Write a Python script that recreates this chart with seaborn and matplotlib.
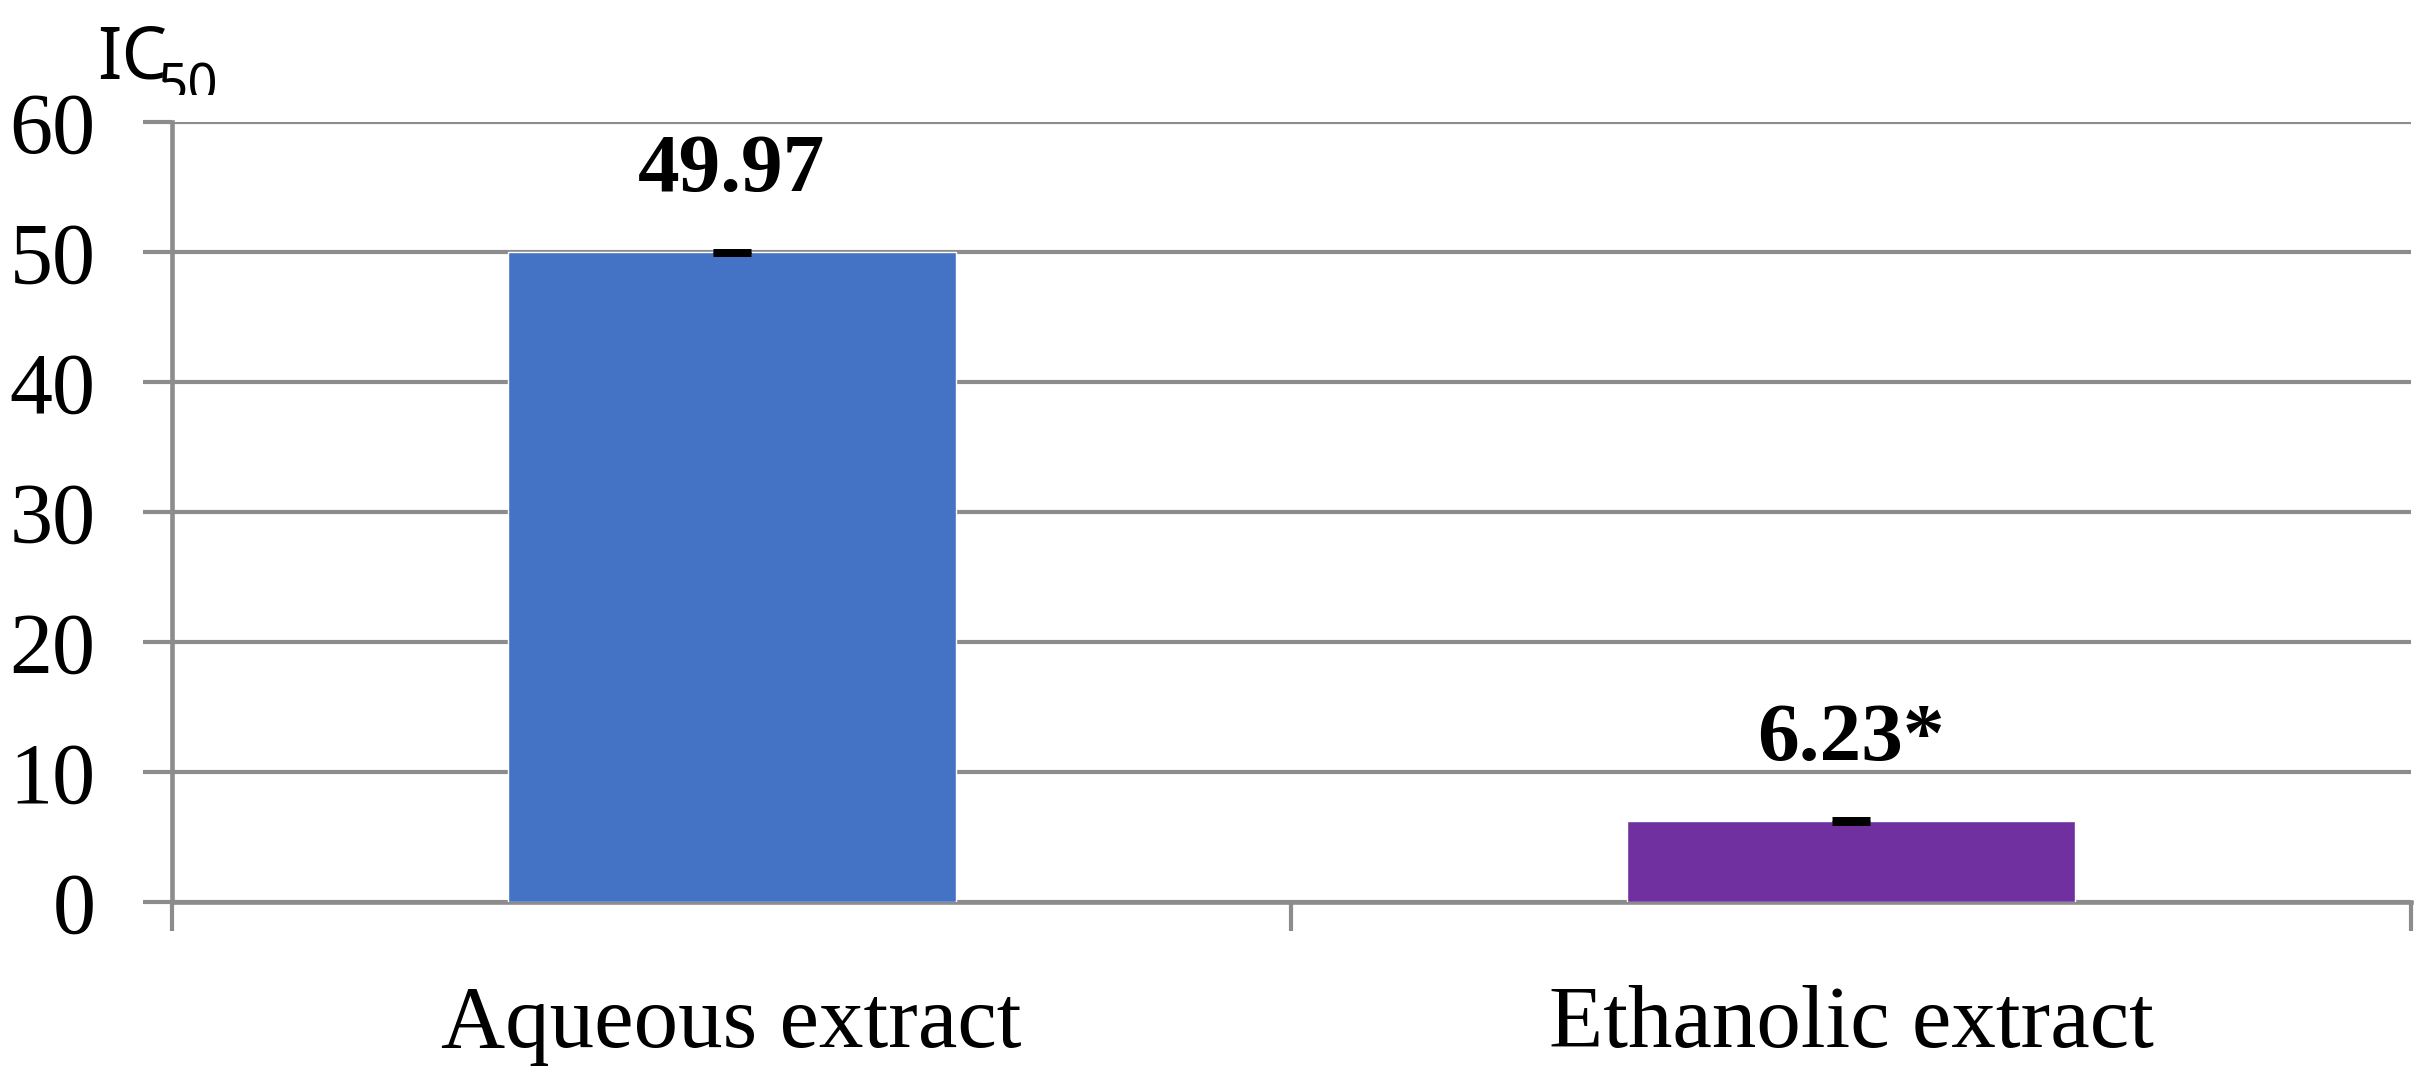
import matplotlib
matplotlib.use("Agg")
import matplotlib.pyplot as plt
from matplotlib.font_manager import FontProperties
from matplotlib.transforms import Bbox, TransformedBbox
import seaborn as sns
import pandas as pd

# chart data
categories = ["Aqueous extract", "Ethanolic extract"]
ic50_values = [49.97, 6.23]
ic50_errors = [0.12, 0.12]
value_labels = ["49.97", "6.23*"]
bar_colors = ["#4472C4", "#7030A0"]
y_ticks = [0, 10, 20, 30, 40, 50, 60]

df = pd.DataFrame({"extract": categories, "ic50": ic50_values})

sns.set_style("white")
plt.rcParams["font.family"] = ["Liberation Serif", "DejaVu Serif"]
plt.rcParams["text.color"] = "black"
plt.rcParams["xtick.labelcolor"] = "black"
plt.rcParams["ytick.labelcolor"] = "black"

grid_color = "#8C8C8C"

fig = plt.figure(figsize=(24.25, 10.89), dpi=100)
ax = fig.add_axes([0.0709, 0.1717, 0.9233, 0.7163])

sns.barplot(data=df, x="extract", y="ic50", hue="extract", palette=bar_colors,
            width=0.4, saturation=1, legend=False, ax=ax, zorder=3)

# error bars (very small SD)
ax.errorbar(range(len(categories)), ic50_values, yerr=ic50_errors, fmt="none",
            ecolor="black", elinewidth=3.5, capsize=13.5, capthick=3.6, zorder=4)

# bold value labels above bars
for i, (v, lab) in enumerate(zip(ic50_values, value_labels)):
    ax.annotate(lab, (i, v), xytext=(0, 44), textcoords="offset points",
                ha="center", va="baseline", fontsize=60, fontweight="bold",
                color="black")

ax.set_xlim(-0.5, 1.5)
ax.set_ylim(0, 60)
ax.set_yticks(y_ticks)
ax.grid(axis="y", color=grid_color, linewidth=3.0, zorder=0)
ax.set_axisbelow(True)

for s in ["top", "right"]:
    ax.spines[s].set_visible(False)
for s in ["left", "bottom"]:
    ax.spines[s].set_color(grid_color)
    ax.spines[s].set_linewidth(3.3)

ax.tick_params(axis="y", which="major", direction="out", length=21, width=3.0,
               color=grid_color, labelsize=62, pad=34, left=True)
ax.tick_params(axis="x", which="major", length=0, labelsize=64, pad=60)
ax.set_xticks([-0.5, 0.5, 1.5], minor=True)
ax.tick_params(axis="x", which="minor", direction="out", length=21, width=3.0,
               color=grid_color, bottom=True)
ax.set_xlabel("")
ax.set_ylabel("")

# IC50 axis title at the top left, in a thin sans font
fig.text(97 / 2425, 1 - 78 / 1089, "IC",
         fontproperties=FontProperties(family="Noto Sans", size=52),
         ha="left", va="baseline", color="black")
sub = fig.text(158 / 2425, 1 - 101 / 1089, "50",
               fontproperties=FontProperties(family="Noto Sans", size=38),
               ha="left", va="baseline", color="black")
sub.set_clip_box(TransformedBbox(Bbox([[0, 1 - 95 / 1089], [1, 1]]), fig.transFigure))
sub.set_clip_on(True)

fig.savefig("out.png", dpi=100, facecolor="white")
